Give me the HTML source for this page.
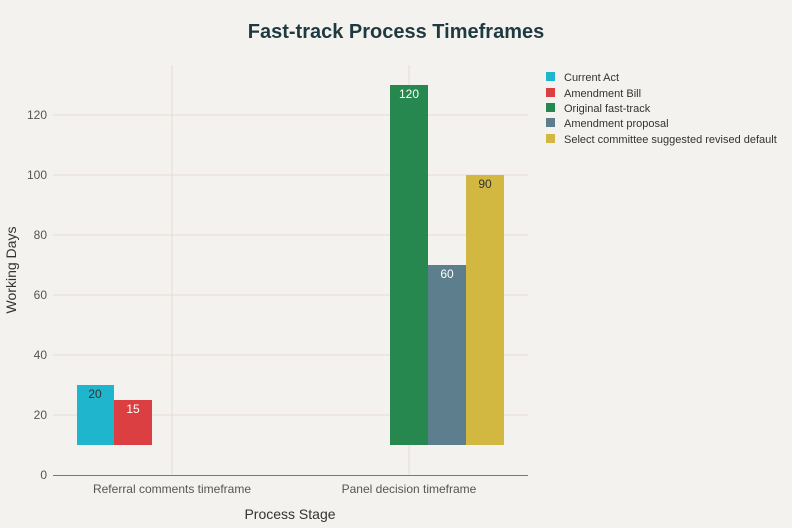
<!DOCTYPE html>
<html><head><meta charset="utf-8"><style>
body{margin:0;background:#f4f2ee;}
svg{display:block;font-family:"Liberation Sans",sans-serif;}
</style></head><body>
<svg width="792" height="528" viewBox="0 0 792 528">
<rect width="792" height="528" fill="#f4f2ee"/>
<text x="396" y="38" text-anchor="middle" font-size="20" font-weight="bold" fill="#1e3a40">Fast-track Process Timeframes</text>
<g stroke="#e6d9d6" stroke-width="1">
<line x1="53" x2="528" y1="415" y2="415"/>
<line x1="53" x2="528" y1="355" y2="355"/>
<line x1="53" x2="528" y1="295" y2="295"/>
<line x1="53" x2="528" y1="235" y2="235"/>
<line x1="53" x2="528" y1="175" y2="175"/>
<line x1="53" x2="528" y1="115" y2="115"/>
<line x1="172" x2="172" y1="65" y2="475"/>
<line x1="409" x2="409" y1="65" y2="475"/>
</g>
<line x1="53" x2="528" y1="475.5" y2="475.5" stroke="#777" stroke-width="1"/>
<g font-size="12" fill="#555" text-anchor="end">
<text x="47" y="479">0</text><text x="47" y="419">20</text><text x="47" y="359">40</text>
<text x="47" y="299">60</text><text x="47" y="239">80</text><text x="47" y="179">100</text><text x="47" y="119">120</text>
</g>
<g font-size="12" fill="#555" text-anchor="middle">
<text x="172" y="493">Referral comments timeframe</text>
<text x="409" y="493">Panel decision timeframe</text>
</g>
<text x="290" y="519" text-anchor="middle" font-size="14" fill="#333">Process Stage</text>
<text transform="translate(16,270) rotate(-90)" text-anchor="middle" font-size="14" fill="#333">Working Days</text>
<rect x="77" y="385" width="37" height="60" fill="#1fb5cc"/>
<rect x="114" y="400" width="38" height="45" fill="#dc3f42"/>
<rect x="390" y="85" width="38" height="360" fill="#27884f"/>
<rect x="428" y="265" width="38" height="180" fill="#5d7e8c"/>
<rect x="466" y="175" width="38" height="270" fill="#d2b740"/>
<g font-size="12" text-anchor="middle">
<text x="95" y="398" fill="#333">20</text>
<text x="133" y="413" fill="#fff">15</text>
<text x="409" y="98" fill="#fff">120</text>
<text x="447" y="278" fill="#fff">60</text>
<text x="485" y="188" fill="#333">90</text>
</g>
<g font-size="11" fill="#333">
<rect x="546" y="72" width="9" height="9" fill="#1fb5cc"/><text x="564" y="81">Current Act</text>
<rect x="546" y="88" width="9" height="9" fill="#dc3f42"/><text x="564" y="97">Amendment Bill</text>
<rect x="546" y="103" width="9" height="9" fill="#27884f"/><text x="564" y="112">Original fast-track</text>
<rect x="546" y="118" width="9" height="9" fill="#5d7e8c"/><text x="564" y="127">Amendment proposal</text>
<rect x="546" y="134" width="9" height="9" fill="#d2b740"/><text x="564" y="143">Select committee suggested revised default</text>
</g>
</svg>
</body></html>
